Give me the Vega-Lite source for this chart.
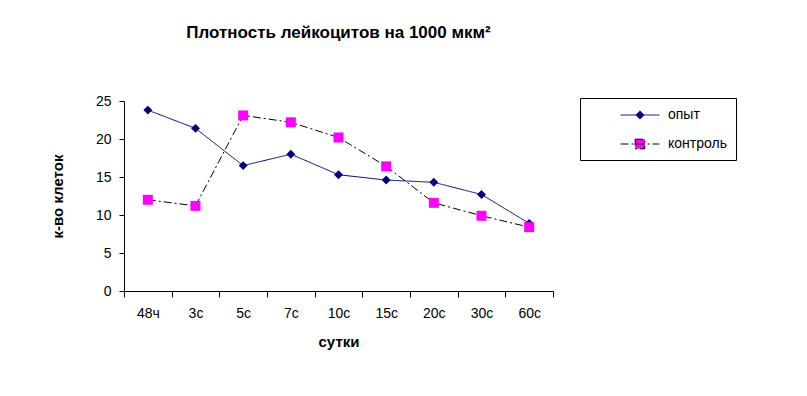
{
  "$schema": "https://vega.github.io/schema/vega-lite/v6.json",
  "width": 429,
  "height": 190,
  "autosize": {"type": "none"},
  "padding": {"left": 124, "top": 101, "right": 254, "bottom": 105},
  "background": "white",
  "config": {
    "font": "Liberation Sans",
    "view": {"stroke": null},
    "axis": {"labelFont": "Liberation Sans", "titleFont": "Liberation Sans", "labelColor": "black", "titleColor": "black", "domainColor": "black", "tickColor": "black", "grid": false}
  },
  "title": {"text": "Плотность лейкоцитов на 1000 мкм²", "fontSize": 17, "fontWeight": "bold", "font": "Liberation Sans", "anchor": "middle", "offset": 52, "color": "black"},
  "data": {"values": [
    {"day": "48ч", "series": "опыт", "v": 23.8},
    {"day": "3с", "series": "опыт", "v": 21.4},
    {"day": "5с", "series": "опыт", "v": 16.5},
    {"day": "7с", "series": "опыт", "v": 18.0},
    {"day": "10с", "series": "опыт", "v": 15.3},
    {"day": "15с", "series": "опыт", "v": 14.6},
    {"day": "20с", "series": "опыт", "v": 14.3},
    {"day": "30с", "series": "опыт", "v": 12.7},
    {"day": "60с", "series": "опыт", "v": 8.9},
    {"day": "48ч", "series": "контроль", "v": 12.0},
    {"day": "3с", "series": "контроль", "v": 11.2},
    {"day": "5с", "series": "контроль", "v": 23.1},
    {"day": "7с", "series": "контроль", "v": 22.2},
    {"day": "10с", "series": "контроль", "v": 20.2},
    {"day": "15с", "series": "контроль", "v": 16.4},
    {"day": "20с", "series": "контроль", "v": 11.6},
    {"day": "30с", "series": "контроль", "v": 9.9},
    {"day": "60с", "series": "контроль", "v": 8.4}
  ]},
  "encoding": {
    "x": {"field": "day", "type": "nominal", "sort": null,
      "scale": {"paddingInner": 0, "paddingOuter": 0},
      "axis": {"title": "сутки", "labelAngle": 0, "tickBand": "extent", "labelFontSize": 14, "titleFontSize": 15, "titleFontWeight": "bold", "labelPadding": 9, "tickSize": 6, "titlePadding": 14}},
    "y": {"field": "v", "type": "quantitative",
      "scale": {"domain": [0, 25], "nice": false},
      "axis": {"title": "к-во клеток", "values": [0, 5, 10, 15, 20, 25], "labelFontSize": 14, "titleFontSize": 15, "titleFontWeight": "bold", "tickSize": 5, "labelPadding": 8, "titlePadding": 30}}
  },
  "layer": [
    {
      "mark": {"type": "line", "strokeWidth": 1},
      "encoding": {
        "stroke": {"field": "series", "type": "nominal", "scale": {"domain": ["опыт", "контроль"], "range": ["#000080", "#000000"]},
          "legend": {"title": null, "orient": "none", "legendX": 456, "legendY": -3, "padding": 9, "strokeColor": "black", "fillColor": "white", "labelFontSize": 14, "labelFont": "Liberation Sans", "labelColor": "black", "rowPadding": 14, "symbolSize": 200, "symbolOffset": 43, "labelOffset": 20, "labelLimit": 300, "symbolStrokeWidth": 1, "symbolOpacity": 1,
            "symbolType": "M-2.75,0H2.75M-0.62,-0.62H0.62V0.62H-0.62Z",
            "labelExpr": "datum.label + '\u00a0\u00a0\u00a0\u00a0\u00a0\u00a0\u00a0'",
            "encoding": {"symbols": {
              "shape": {"value": {"expr": "datum.value === 'опыт' ? 'M-2.75,0H2.75M0,-0.58L0.58,0L0,0.58L-0.58,0Z' : 'M-2.75,0H2.75M-0.68,-0.68H0.68V0.68H-0.68Z'"}}
            }}}},
        "strokeDash": {"field": "series", "type": "nominal", "scale": {"domain": ["опыт", "контроль"], "range": [[1, 0], [8, 3, 2, 3]]}}
      }
    },
    {
      "transform": [{"filter": "datum.series === 'опыт'"}],
      "mark": {"type": "point", "filled": true, "opacity": 1, "shape": "diamond", "size": 80},
      "encoding": {
        "fill": {"field": "series", "type": "nominal", "scale": {"domain": ["опыт", "контроль"], "range": ["#000080", "#FF00FF"]}}
      }
    },
    {
      "transform": [{"filter": "datum.series === 'контроль'"}],
      "mark": {"type": "point", "filled": true, "opacity": 1, "shape": "square", "size": 100},
      "encoding": {
        "fill": {"field": "series", "type": "nominal", "scale": {"domain": ["опыт", "контроль"], "range": ["#000080", "#FF00FF"]}}
      }
    }
  ]
}
